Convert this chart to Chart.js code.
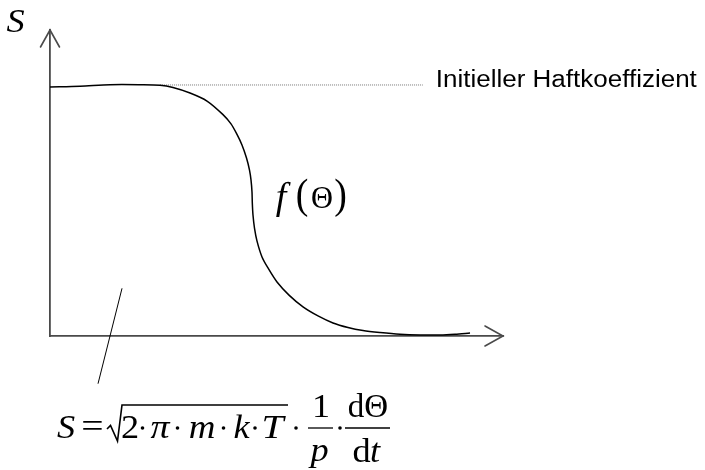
<!DOCTYPE html>
<html>
<head>
<meta charset="utf-8">
<script src="https://cdn.jsdelivr.net/npm/chart.js@4/dist/chart.umd.min.js"></script>
<style>
  html, body { margin: 0; padding: 0; background: #fff; }
  #wrap { width: 705px; height: 470px; position: relative; }
</style>
</head>
<body>
<div id="wrap"><canvas id="c"></canvas></div>
<script>
// Sticking coefficient S versus coverage Θ (arbitrary units)
const thetaX = [0, 0.662, 1.325, 1.987, 2.428, 2.715, 3.091, 3.466, 3.819, 3.996, 4.128, 4.238, 4.338, 4.404, 4.437, 4.459, 4.466, 4.481, 4.514, 4.570, 4.680, 4.812, 5.011, 5.276, 5.585, 5.916, 6.247, 6.578, 6.909, 7.285, 7.726, 8.168, 8.609, 8.940, 9.272];
const stickS = [0.992, 0.995, 1.001, 1.001, 0.999, 0.990, 0.968, 0.936, 0.882, 0.845, 0.803, 0.761, 0.709, 0.661, 0.622, 0.574, 0.530, 0.482, 0.430, 0.378, 0.315, 0.271, 0.215, 0.163, 0.116, 0.080, 0.052, 0.034, 0.022, 0.014, 0.007, 0.004, 0.004, 0.007, 0.012];

// Initial sticking coefficient reference line
const initialS = 1.0;
const initialLineX = [2.43, 8.23];

// Pointer from the formula up into the area under the curve
const pointerX = [1.59, 1.06];
const pointerY = [0.19, -0.19];

const axisMax = { x: 10, y: 1.219 };

const SERIF = '"Liberation Serif", "DejaVu Serif", serif';
const SANS = '"Liberation Sans", Arial, sans-serif';

function drawText(ctx, txt, x, y, font, sx, align) {
  ctx.save();
  ctx.font = font;
  ctx.translate(x, y);
  ctx.scale(sx, 1);
  ctx.textAlign = align || 'center';
  ctx.textBaseline = 'alphabetic';
  ctx.fillStyle = '#000';
  ctx.fillText(txt, 0, 0);
  ctx.restore();
}

function dot(ctx, x, y) {
  ctx.beginPath();
  ctx.arc(x, y, 1.8, 0, Math.PI * 2);
  ctx.fill();
}

function line(ctx, x1, y1, x2, y2, w) {
  ctx.beginPath();
  ctx.lineWidth = w;
  ctx.moveTo(x1, y1);
  ctx.lineTo(x2, y2);
  ctx.stroke();
}

// Arrow heads on the axes plus all annotation text
const annotations = {
  id: 'annotations',
  afterDraw(chart) {
    const ctx = chart.ctx;
    const a = chart.chartArea;
    const xs = chart.scales.x, ys = chart.scales.y;

    ctx.save();
    ctx.strokeStyle = '#4a4a4a';
    ctx.lineWidth = 1.6;
    ctx.lineCap = 'round';
    // y axis arrow
    ctx.beginPath();
    ctx.moveTo(a.left - 9.5, a.top + 17);
    ctx.lineTo(a.left, a.top);
    ctx.lineTo(a.left + 9.5, a.top + 17);
    ctx.stroke();
    // x axis arrow
    ctx.beginPath();
    ctx.moveTo(a.right - 18, a.bottom - 10);
    ctx.lineTo(a.right, a.bottom);
    ctx.lineTo(a.right - 18, a.bottom + 10);
    ctx.stroke();
    ctx.restore();

    ctx.save();
    ctx.fillStyle = '#000';
    ctx.strokeStyle = '#000';

    // axis name
    drawText(ctx, 'S', 15.5, 32, 'italic 33px ' + SERIF, 1.1);

    // label of the initial value line, stretched to its column width
    const yInit = ys.getPixelForValue(initialS);
    const label = 'Initieller Haftkoeffizient';
    ctx.save();
    ctx.font = '23px ' + SANS;
    const w = ctx.measureText(label).width;
    ctx.restore();
    drawText(ctx, label, xs.getPixelForValue(initialLineX[1]) + 13, yInit + 2, '23px ' + SANS, 261 / w, 'left');

    // f(Θ)
    drawText(ctx, 'f', 281, 209, 'italic 38px ' + SERIF, 1.0);
    drawText(ctx, '(', 302, 208, '42px ' + SERIF, 0.9);
    drawText(ctx, 'Θ', 322, 208, '32px ' + SERIF, 0.95);
    drawText(ctx, ')', 340.5, 208, '42px ' + SERIF, 0.9);

    // S = sqrt(2·π·m·k·T) · 1/p · dΘ/dt
    const base = 438, mid = 428;
    const F = '33px ' + SERIF, FI = 'italic 33px ' + SERIF, sx = 1.1;
    drawText(ctx, 'S', 66, base, FI, sx);
    drawText(ctx, '=', 92.5, base - 1, F, 1.2);
    ctx.beginPath();
    ctx.lineWidth = 1.6;
    ctx.lineJoin = 'miter';
    ctx.moveTo(107, 429);
    ctx.lineTo(110.5, 425.5);
    ctx.lineTo(117.5, 441);
    ctx.lineTo(122, 405);
    ctx.lineTo(288, 405);
    ctx.stroke();
    drawText(ctx, '2', 130, base, F, sx);
    dot(ctx, 142.5, mid);
    drawText(ctx, 'π', 160, base, FI, 1.15);
    dot(ctx, 177.5, mid);
    drawText(ctx, 'm', 202, base, FI, 1.12);
    dot(ctx, 223.5, mid);
    drawText(ctx, 'k', 241.5, base, FI, sx);
    dot(ctx, 255, mid);
    drawText(ctx, 'T', 272.5, base, FI, 1.2);
    dot(ctx, 296, mid);
    line(ctx, 308, mid, 333, mid, 1.3);
    drawText(ctx, '1', 321, 417, F, sx);
    drawText(ctx, 'p', 319.5, 461, FI, sx);
    dot(ctx, 340, mid);
    line(ctx, 345, mid, 390, mid, 1.3);
    drawText(ctx, 'dΘ', 368, 417, F, 1.0);
    drawText(ctx, 'd', 361.5, 462, F, sx);
    drawText(ctx, 't', 375, 462, FI, sx);
    ctx.restore();
  }
};

const hiddenAxis = (horizontal) => ({
  type: 'linear',
  display: true,
  ticks: { display: false },
  grid: { display: false, drawTicks: false, tickLength: 0 },
  border: { display: true, color: '#4a4a4a', width: 1.8 },
  afterFit(s) { if (horizontal) s.height = 0; else s.width = 0; }
});

new Chart(document.getElementById('c'), {
  type: 'line',
  data: {
    datasets: [
      {
        data: thetaX.map((x, i) => ({ x, y: stickS[i] })),
        borderColor: '#000',
        borderWidth: 1.5,
        pointRadius: 0,
        tension: 0.3,
        clip: false
      },
      {
        data: initialLineX.map(x => ({ x, y: initialS })),
        borderColor: '#777',
        borderWidth: 1,
        borderDash: [1, 1],
        pointRadius: 0,
        clip: false
      },
      {
        data: pointerX.map((x, i) => ({ x, y: pointerY[i] })),
        borderColor: '#000',
        borderWidth: 1,
        pointRadius: 0,
        clip: false
      }
    ]
  },
  options: {
    responsive: true,
    maintainAspectRatio: false,
    animation: false,
    events: [],
    layout: { padding: { left: 50, right: 202, top: 30, bottom: 134 } },
    scales: {
      x: Object.assign(hiddenAxis(true), { min: 0, max: axisMax.x }),
      y: Object.assign(hiddenAxis(false), { min: 0, max: axisMax.y })
    },
    plugins: { legend: { display: false }, tooltip: { enabled: false } }
  },
  plugins: [annotations]
});
</script>
</body>
</html>
